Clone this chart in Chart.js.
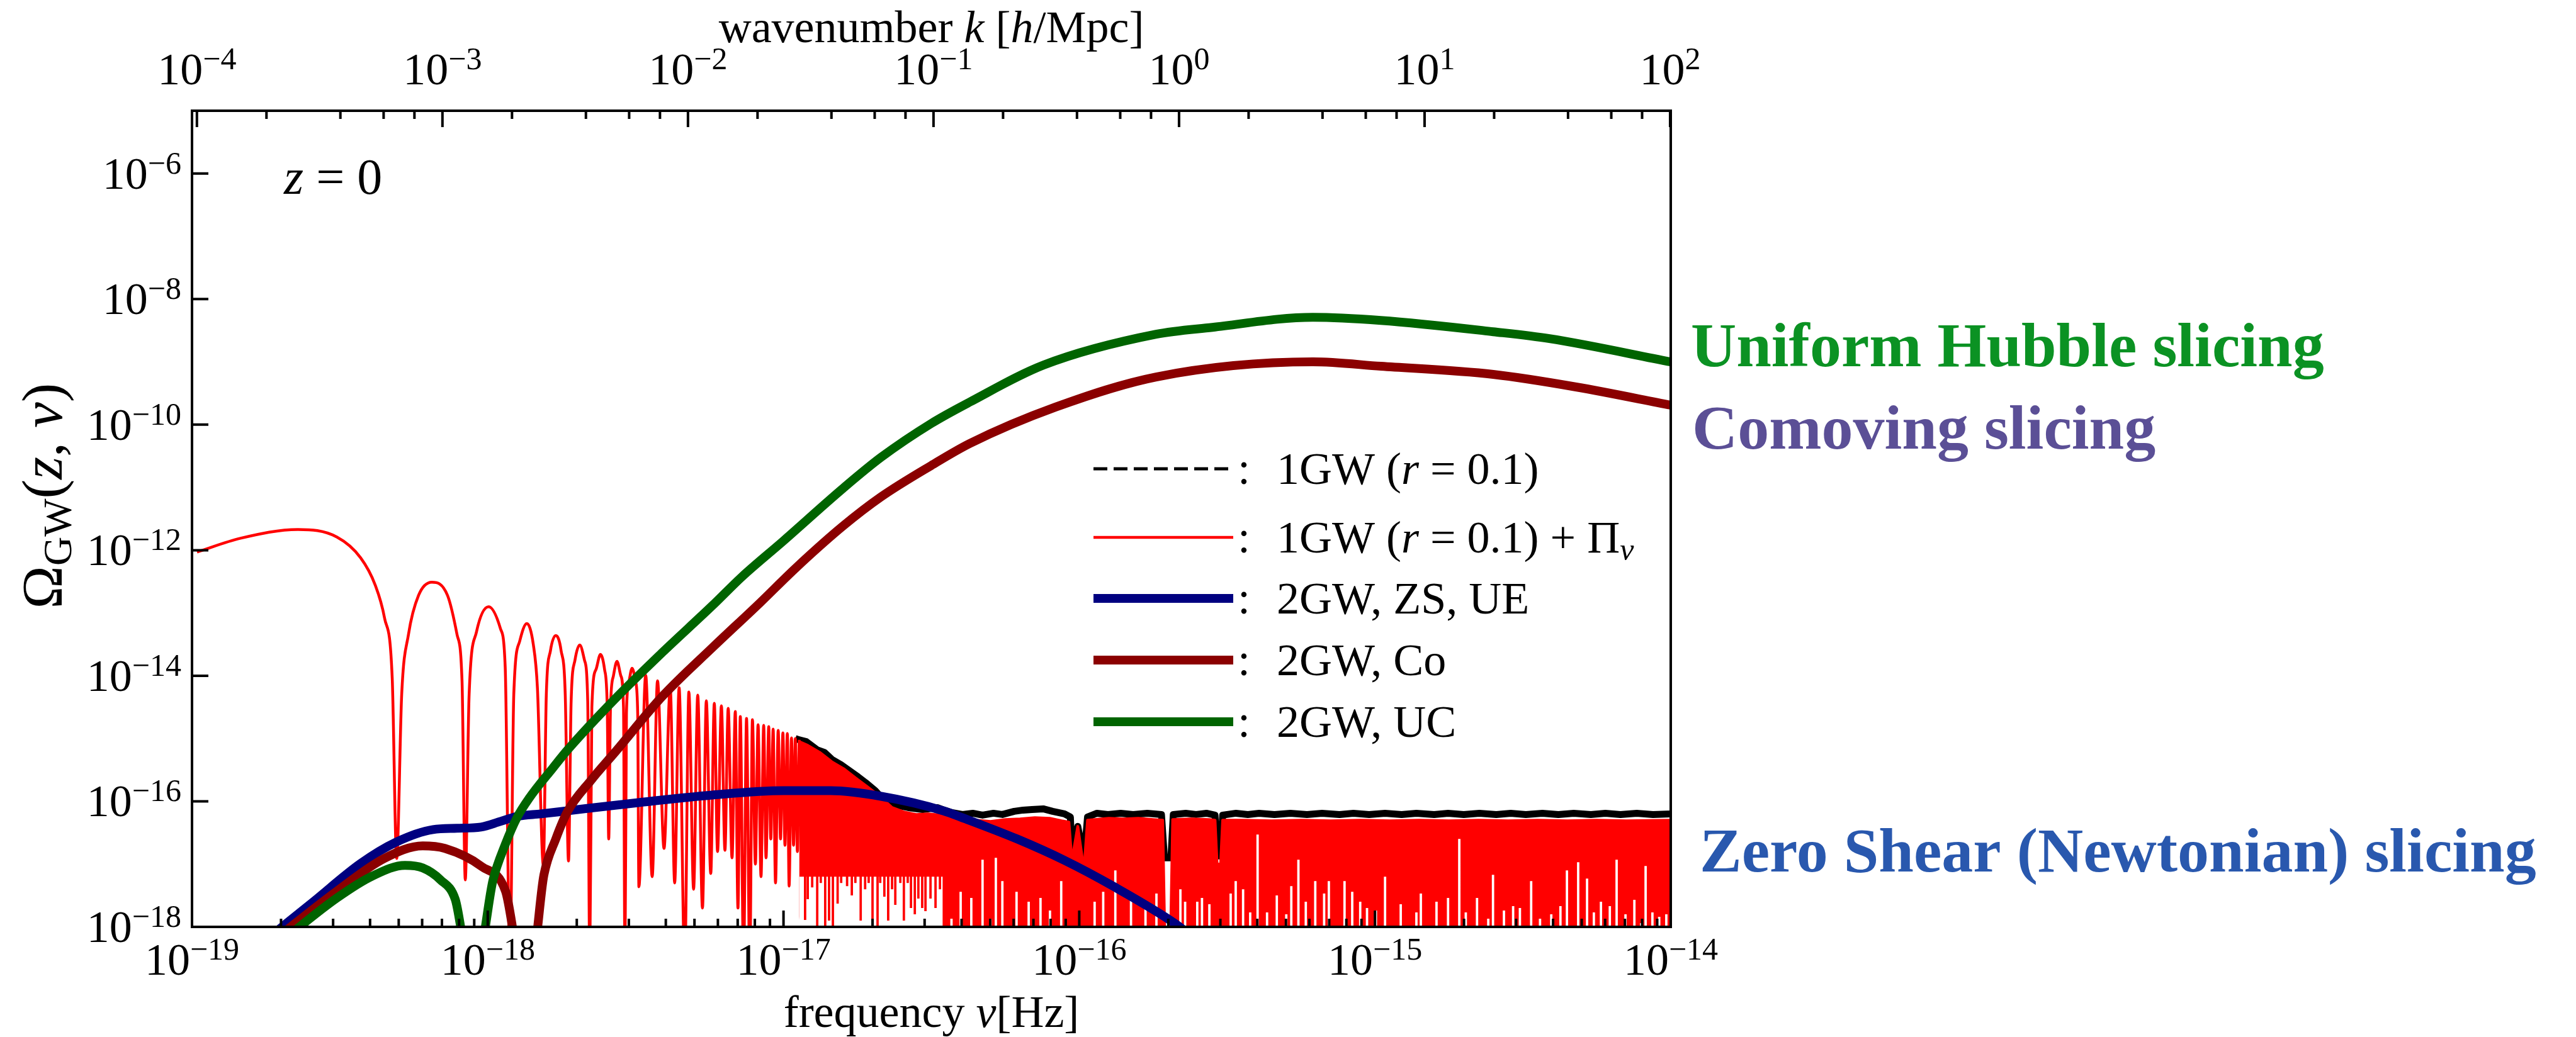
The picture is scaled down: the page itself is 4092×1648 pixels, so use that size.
<!DOCTYPE html>
<html>
<head>
<meta charset="utf-8">
<script src="https://cdn.jsdelivr.net/npm/chart.js@4.4.1/dist/chart.umd.min.js"></script>
<style>
  html, body { margin: 0; padding: 0; background: #fff; }
  canvas { display: block; }
</style>
</head>
<body>
<canvas id="gwChart" width="4092" height="1648"></canvas>
<script>
// all curves are [log10(nu / Hz), log10(Omega_GW)]

// axis ranges and ticks
const nuRange = [1e-19, 1e-14];
const omegaRange = [1e-18, 1e-5];
const kRange = [9.55e-5, 100.6];
const nuTickExp = [-19, -18, -17, -16, -15, -14];
const nuMinorMant = [2, 3, 4, 5, 6, 7, 8, 9];
const omegaTickExp = [-18, -16, -14, -12, -10, -8, -6];
const kTickExp = [-4, -3, -2, -1, 0, 1, 2];
const kMinorMant = [1.92, 3.84, 5.76, 7.69];

// 2GW, UC (green)
const ucCurve = [
  [-18.69,-18.2],[-18.51,-17.54],[-18.39,-17.19],[-18.28,-17.02],[-18.22,-17.06],[-18.16,-17.25],
  [-18.11,-17.56],[-18.07,-18.4],[-18.03,-18.4],[-17.982,-17.25],[-17.941,-16.69],[-17.9,-16.25],
  [-17.86,-15.95],[-17.78,-15.47],[-17.73,-15.18],[-17.57,-14.37],[-17.41,-13.63],[-17.24,-12.88],
  [-17.14,-12.42],[-17.0,-11.85],[-16.8,-11.02],[-16.67,-10.52],[-16.5,-9.98],[-16.37,-9.64],
  [-16.12,-9.05],[-15.74,-8.56],[-15.55,-8.45],[-15.21,-8.29],[-14.98,-8.34],[-14.6,-8.52],
  [-14.41,-8.63],[-14.0,-9.0]
];

// 2GW, Co (dark red)
const coCurve = [
  [-18.72,-18.2],[-18.51,-17.43],[-18.35,-16.91],[-18.22,-16.71],[-18.145,-16.75],[-18.02,-17.04],
  [-17.94,-17.43],[-17.89,-18.5],[-17.85,-18.5],[-17.81,-17.17],[-17.77,-16.6],[-17.73,-16.16],
  [-17.65,-15.66],[-17.57,-15.22],[-17.41,-14.33],[-17.24,-13.55],[-17.08,-12.84],[-16.96,-12.29],
  [-16.8,-11.62],[-16.67,-11.15],[-16.5,-10.65],[-16.37,-10.3],[-16.08,-9.72],[-15.74,-9.24],
  [-15.21,-9.0],[-14.98,-9.07],[-14.6,-9.2],[-14.32,-9.4],[-14.0,-9.69]
];

// 2GW, ZS, UE (navy)
const zsCurve = [
  [-18.74,-18.17],[-18.59,-17.6],[-18.43,-16.99],[-18.31,-16.65],[-18.185,-16.45],[-18.104,-16.43],
  [-18.023,-16.41],[-17.957,-16.32],[-17.9,-16.24],[-17.82,-16.2],[-17.73,-16.15],[-17.49,-16.02],
  [-17.24,-15.9],[-17.0,-15.83],[-16.84,-15.83],[-16.67,-15.92],[-16.46,-16.15],[-16.39,-16.27],
  [-16.21,-16.6],[-16.05,-16.94],[-15.886,-17.35],[-15.675,-17.95],[-15.62,-18.15]
];

// 1GW + Pi_nu (red), resolved oscillations: peaks and dips
const redResolved = [
  [-18.983,-12.03],[-18.836,-11.81],[-18.642,-11.67],[-18.51,-11.79],[-18.43,-12.12],[-18.381,-12.55],
  [-18.349,-13.08],[-18.323,-14.04],[-18.308,-16.91],
  [-18.291,-14.3],[-18.268,-13.34],[-18.234,-12.72],[-18.189,-12.51],[-18.136,-12.72],[-18.104,-13.34],
  [-18.087,-14.08],[-18.076,-17.25],
  [-18.063,-14.3],[-18.038,-13.3],[-17.997,-12.9],[-17.957,-13.25],[-17.941,-13.86],[-17.925,-18.6],
  [-17.912,-14.3],[-17.892,-13.45],[-17.868,-13.17],[-17.846,-13.5],[-17.832,-14.2],[-17.812,-17.02],
  [-17.802,-14.3],[-17.788,-13.6],[-17.77,-13.36],[-17.752,-13.6],[-17.738,-14.3],[-17.727,-16.95],
  [-17.718,-14.4],[-17.705,-13.75],[-17.689,-13.51],[-17.673,-13.75],[-17.662,-14.4],[-17.655,-18.6],
  [-17.648,-14.5],[-17.634,-13.9],[-17.619,-13.66],[-17.605,-13.9],[-17.596,-14.5],[-17.591,-16.6],
  [-17.585,-14.5],[-17.575,-14.0],[-17.563,-13.77],[-17.55,-14.0],[-17.541,-14.5],[-17.536,-18.6],
  [-17.531,-14.6],[-17.523,-14.1],[-17.512,-13.88],[-17.5,-14.1],[-17.493,-14.6],[-17.489,-17.36],
  [-17.466,-13.99],[-17.444,-17.2],[-17.426,-14.08],[-17.404,-16.75],[-17.383,-14.18],[-17.368,-17.3],
  [-17.353,-14.19],[-17.334,-18.6],[-17.32,-14.26],[-17.304,-17.4],[-17.29,-14.31],[-17.274,-17.7],
  [-17.261,-14.4],[-17.246,-17.15],[-17.234,-14.44],[-17.223,-16.8],[-17.21,-14.48],[-17.198,-16.78],
  [-17.187,-14.52],[-17.174,-16.9],[-17.163,-14.57],[-17.154,-17.7],[-17.146,-14.65],[-17.135,-18.6],
  [-17.125,-14.68],[-17.114,-18.6],[-17.105,-14.7],[-17.095,-17.0],[-17.086,-14.78],[-17.076,-17.2],
  [-17.067,-14.79],[-17.059,-16.9],[-17.05,-14.81],[-17.043,-16.6],[-17.035,-14.85],[-17.027,-17.3],
  [-17.018,-14.87],[-17.01,-16.6],[-17.002,-14.91],[-16.995,-16.7],[-16.987,-14.92],[-16.981,-17.35],
  [-16.973,-14.99],[-16.966,-16.7],[-16.96,-15.0],[-16.953,-16.8],[-16.947,-15.02]
];

// red, unresolved part: upper envelope
const redTop = [
  [-16.947,-15.05],[-16.918,-15.11],[-16.878,-15.22],[-16.837,-15.37],[-16.797,-15.48],[-16.756,-15.63],
  [-16.716,-15.77],[-16.675,-15.92],[-16.633,-16.1],[-16.593,-16.17],[-16.552,-16.21],[-16.512,-16.2],
  [-16.463,-16.22],[-16.43,-16.25],[-16.4,-16.27],[-16.35,-16.3],[-16.3,-16.32],[-16.25,-16.29],
  [-16.2,-16.28],[-16.15,-16.26],[-16.1,-16.27],[-16.06,-16.31],[-16.035,-16.33],[-16.025,-16.95],
  [-16.005,-16.4],[-15.984,-17.1],[-15.972,-16.3],[-15.9,-16.27],[-15.85,-16.28],[-15.8,-16.27],
  [-15.75,-16.29],[-15.718,-16.3],[-15.71,-18.4],[-15.692,-18.4],[-15.684,-16.29],[-15.62,-16.28],
  [-15.56,-16.29],[-15.541,-16.3],[-15.534,-17.0],[-15.522,-17.0],[-15.515,-16.3],[-15.45,-16.3],
  [-15.35,-16.31],[-15.25,-16.3],[-15.15,-16.31],[-15.05,-16.3],[-14.95,-16.31],[-14.85,-16.3],
  [-14.75,-16.31],[-14.65,-16.3],[-14.55,-16.31],[-14.45,-16.3],[-14.35,-16.31],[-14.25,-16.3],
  [-14.15,-16.31],[-14.0,-16.3]
];
// where the half-resolved oscillation still leaves white below it
const redSolidLow = -17.2;
const redFloor = -18.4;
// deep dips in the half-resolved stretch
const redDips = [
  [-16.927,-17.89],[-16.918,-17.56],[-16.903,-17.37],[-16.886,-18.4],[-16.874,-17.3],[-16.859,-18.4],
  [-16.846,-17.9],[-16.833,-18.4],[-16.817,-17.63],[-16.805,-17.3],[-16.785,-17.35],[-16.769,-17.5],
  [-16.757,-17.3],[-16.739,-17.9],[-16.724,-17.4],[-16.712,-17.3],[-16.699,-17.9],[-16.682,-18.4],
  [-16.673,-17.3],[-16.659,-17.52],[-16.646,-17.9],[-16.633,-17.4],[-16.622,-17.65],[-16.605,-17.3],
  [-16.593,-17.9],[-16.58,-17.3],[-16.569,-17.7],[-16.556,-17.8],[-16.544,-17.55],[-16.531,-17.7],
  [-16.52,-17.75],[-16.503,-17.55],[-16.486,-17.7],[-16.471,-17.4]
];
// white slivers in the dense band: position and the level they reach up to
const redSlivers = [
  [-16.432,-17.87],[-16.401,-17.44],[-16.365,-17.54],[-16.327,-16.93],[-16.3,-17.87],[-16.282,-16.9],
  [-16.26,-17.27],[-16.212,-17.44],[-16.171,-17.6],[-16.131,-17.54],[-16.099,-17.74],[-16.061,-17.27],
  [-15.948,-17.6],[-15.919,-17.44],[-15.878,-17.1],[-15.825,-17.54],[-15.776,-17.64],[-15.739,-17.47],
  [-15.658,-17.4],[-15.642,-17.6],[-15.601,-17.6],[-15.585,-17.54],[-15.56,-17.64],[-15.488,-17.47],
  [-15.471,-17.27],[-15.446,-17.4],[-15.422,-17.77],[-15.397,-16.53],[-15.365,-17.77],[-15.332,-17.5],
  [-15.3,-17.8],[-15.283,-17.35],[-15.259,-16.93],[-15.234,-17.6],[-15.202,-17.27],[-15.172,-17.47],
  [-15.156,-17.27],[-15.103,-17.27],[-15.077,-17.44],[-15.05,-17.6],[-15.027,-17.7],[-14.997,-17.74],
  [-14.966,-17.2],[-14.913,-17.64],[-14.86,-17.77],[-14.845,-17.47],[-14.792,-17.6],[-14.753,-17.54],
  [-14.715,-16.6],[-14.693,-17.77],[-14.655,-17.54],[-14.617,-17.87],[-14.601,-17.17],[-14.564,-17.74],
  [-14.533,-17.67],[-14.51,-17.7],[-14.472,-17.27],[-14.442,-17.87],[-14.404,-17.8],[-14.373,-17.67],
  [-14.351,-17.1],[-14.313,-16.97],[-14.283,-17.23],[-14.26,-17.77],[-14.236,-17.6],[-14.206,-17.67],
  [-14.183,-16.93],[-14.153,-17.8],[-14.123,-17.57],[-14.1,-17.94],[-14.085,-17.03],[-14.062,-17.77],
  [-14.039,-17.84],[-14.015,-17.8]
];

// 1GW (r = 0.1), black, visible only above the red band
const oneGwCurve = [
  [-16.96,-15.0],[-16.948,-15.02],[-16.923,-15.05],[-16.886,-15.18],[-16.862,-15.22],[-16.837,-15.33],
  [-16.805,-15.42],[-16.772,-15.53],[-16.748,-15.61],[-16.723,-15.7],[-16.69,-15.83],[-16.659,-15.99],
  [-16.61,-16.07],[-16.578,-16.1],[-16.529,-16.13],[-16.48,-16.1],[-16.463,-16.13],[-16.43,-16.18],
  [-16.395,-16.21],[-16.36,-16.19],[-16.327,-16.22],[-16.29,-16.19],[-16.26,-16.21],[-16.22,-16.16],
  [-16.19,-16.14],[-16.16,-16.13],[-16.122,-16.12],[-16.09,-16.16],[-16.05,-16.2],[-16.03,-16.25],
  [-16.024,-16.9],[-16.005,-16.4],[-15.984,-16.9],[-15.972,-16.25],[-15.94,-16.19],[-15.903,-16.21],
  [-15.86,-16.19],[-15.818,-16.21],[-15.77,-16.19],[-15.722,-16.21],[-15.712,-16.9],[-15.69,-16.9],
  [-15.682,-16.21],[-15.64,-16.19],[-15.605,-16.21],[-15.57,-16.19],[-15.541,-16.22],[-15.533,-16.87],
  [-15.523,-16.87],[-15.515,-16.22],[-15.47,-16.19],[-15.43,-16.21],[-15.392,-16.19],[-15.34,-16.21],
  [-15.286,-16.19],[-15.23,-16.21],[-15.179,-16.19],[-15.12,-16.21],[-15.073,-16.19],[-15.02,-16.21],
  [-14.966,-16.19],[-14.91,-16.21],[-14.86,-16.19],[-14.8,-16.21],[-14.753,-16.19],[-14.7,-16.21],
  [-14.647,-16.19],[-14.59,-16.21],[-14.541,-16.19],[-14.49,-16.21],[-14.434,-16.19],[-14.38,-16.21],
  [-14.328,-16.19],[-14.27,-16.21],[-14.221,-16.19],[-14.17,-16.21],[-14.115,-16.19],[-14.06,-16.21],
  [-14.0,-16.2]
];

// ---------------------------------------------------------------
const SERIF = '"Liberation Serif", "Times New Roman", serif';
const toXY = (pairs) => pairs.map(p => ({x: Math.pow(10, p[0]), y: Math.pow(10, p[1])}));

// lower edge of the red band, a step profile built from the dips and slivers
let redBottom = [[-16.96, redSolidLow]];
redDips.forEach(d => { redBottom.push([d[0] - 0.004, d[1]], [d[0] + 0.004, redSolidLow]); });
redBottom.push([-16.462, redFloor]);
redSlivers.forEach(s => { redBottom.push([s[0] - 0.004, s[1]], [s[0] + 0.004, redFloor]); });
redBottom.push([-13.99, redFloor]);

const thick = 14;
let datasets = [
  {label: '2GW, UC', data: toXY(ucCurve), borderColor: '#006400', borderWidth: thick, cubicInterpolationMode: 'monotone'},
  {label: '2GW, Co', data: toXY(coCurve), borderColor: '#8b0000', borderWidth: thick, cubicInterpolationMode: 'monotone'},
  {label: '2GW, ZS, UE', data: toXY(zsCurve), borderColor: '#000080', borderWidth: thick, cubicInterpolationMode: 'monotone'},
  {label: '1GW + Pi', data: toXY(redResolved), borderColor: '#ff0000', borderWidth: 4.5, cubicInterpolationMode: 'monotone'},
  {label: 'red band top', data: toXY(redTop), borderColor: '#ff0000', backgroundColor: '#ff0000', borderWidth: 4.5, fill: '+1'},
  {label: 'red band bottom', data: toXY(redBottom), borderColor: '#ff0000', borderWidth: 0, stepped: true},
  {label: '1GW', data: toXY(oneGwCurve), borderColor: '#000000', borderWidth: 11}
];
datasets.forEach(ds => {
  ds.pointRadius = 0;
  ds.clip = 0;
  ds.borderJoinStyle = 'round';
  if (ds.fill === undefined) ds.fill = false;
});

function drawRich(ctx, parts, x, y, align){
  let total = 0;
  for (const p of parts) {
    ctx.font = p.f;
    p.w = ctx.measureText(p.t).width;
    total += p.w;
  }
  let cx = align === 'center' ? x - total / 2 : (align === 'right' ? x - total : x);
  ctx.textAlign = 'left';
  ctx.textBaseline = 'alphabetic';
  for (const p of parts) {
    ctx.font = p.f;
    ctx.fillText(p.t, cx, y + (p.dy || 0));
    cx += p.w;
  }
}
const rm = (t, size) => ({t: t, f: (size || 72) + 'px ' + SERIF});
const it = (t, size) => ({t: t, f: 'italic ' + (size || 72) + 'px ' + SERIF});
function powLabel(e){
  return [rm('10'), {t: String(e).replace('-', '\u2212'), f: '50px ' + SERIF, dy: -24}];
}

const legendRows = [
  {y: 745, color: '#000000', width: 5, dash: [22, 10], parts: [rm('1GW ('), it('r'), rm(' = 0.1)')]},
  {y: 854, color: '#ff0000', width: 4.5, dash: [], parts: [rm('1GW ('), it('r'), rm(' = 0.1) + \u03a0'), Object.assign(it('\u03bd', 50), {dy: 12})]},
  {y: 951, color: '#000080', width: thick, dash: [], parts: [rm('2GW, ZS, UE')]},
  {y: 1049, color: '#8b0000', width: thick, dash: [], parts: [rm('2GW, Co')]},
  {y: 1147, color: '#006400', width: thick, dash: [], parts: [rm('2GW, UC')]}
];

const frameAndText = {
  id: 'frameAndText',
  afterDraw(chart){
    const ctx = chart.ctx;
    const area = chart.chartArea;
    const sx = chart.scales.x, sy = chart.scales.y, sk = chart.scales.k;
    ctx.save();
    ctx.strokeStyle = '#000';
    ctx.fillStyle = '#000';
    ctx.lineWidth = 4;
    ctx.setLineDash([]);
    ctx.strokeRect(area.left, area.top, area.right - area.left, area.bottom - area.top);

    ctx.beginPath();
    // bottom axis
    nuTickExp.forEach(e => {
      const px = sx.getPixelForValue(Math.pow(10, e));
      ctx.moveTo(px, area.bottom); ctx.lineTo(px, area.bottom - 26);
      if (e < -14) nuMinorMant.forEach(m => {
        const p = sx.getPixelForValue(m * Math.pow(10, e));
        ctx.moveTo(p, area.bottom); ctx.lineTo(p, area.bottom - 13);
      });
    });
    // top axis
    kTickExp.forEach(e => {
      const px = sk.getPixelForValue(Math.pow(10, e));
      ctx.moveTo(px, area.top); ctx.lineTo(px, area.top + 26);
      if (e < 2) kMinorMant.forEach(m => {
        const p = sk.getPixelForValue(m * Math.pow(10, e));
        ctx.moveTo(p, area.top); ctx.lineTo(p, area.top + 13);
      });
    });
    // left axis
    omegaTickExp.forEach(e => {
      const py = sy.getPixelForValue(Math.pow(10, e));
      ctx.moveTo(area.left, py); ctx.lineTo(area.left + 26, py);
    });
    ctx.stroke();

    nuTickExp.forEach(e => drawRich(ctx, powLabel(e), sx.getPixelForValue(Math.pow(10, e)), 1549, 'center'));
    kTickExp.forEach(e => drawRich(ctx, powLabel(e), sk.getPixelForValue(Math.pow(10, e)), 134, 'center'));
    omegaTickExp.forEach(e => drawRich(ctx, powLabel(e), area.left - 17, sy.getPixelForValue(Math.pow(10, e)) + 24, 'right'));

    // axis titles
    const midX = (area.left + area.right) / 2;
    drawRich(ctx, [rm('frequency '), it('\u03bd'), rm('[Hz]')], midX, 1632, 'center');
    drawRich(ctx, [rm('wavenumber '), it('k'), rm(' ['), it('h'), rm('/Mpc]')], midX, 67, 'center');
    ctx.save();
    ctx.translate(98, 788);
    ctx.rotate(-Math.PI / 2);
    drawRich(ctx, [rm('\u03a9', 92), Object.assign(rm('GW', 64), {dy: 15}), rm('(', 92), it('z', 92), rm(', ', 92), it('\u03bd', 92), rm(')', 92)], 0, 0, 'center');
    ctx.restore();

    drawRich(ctx, [it('z', 80), rm(' = 0', 80)], 451, 308, 'left');

    // legend
    legendRows.forEach(row => {
      ctx.beginPath();
      ctx.strokeStyle = row.color;
      ctx.lineWidth = row.width;
      ctx.setLineDash(row.dash);
      ctx.moveTo(1737, row.y); ctx.lineTo(1959, row.y);
      ctx.stroke();
      ctx.setLineDash([]);
      ctx.fillStyle = '#000';
      drawRich(ctx, [rm(':')], 1976, row.y + 24, 'center');
      drawRich(ctx, row.parts, 2028, row.y + 24, 'left');
    });

    // slicing names
    ctx.font = 'bold 100px ' + SERIF;
    ctx.textAlign = 'left';
    ctx.fillStyle = '#0b9223';
    ctx.fillText('Uniform Hubble slicing', 2686, 582);
    ctx.fillStyle = '#5b4f96';
    ctx.fillText('Comoving slicing', 2688, 713);
    ctx.fillStyle = '#2958ae';
    ctx.fillText('Zero Shear (Newtonian) slicing', 2700, 1385);
    ctx.restore();
  }
};

let chart = new Chart(document.getElementById('gwChart').getContext('2d'), {
  type: 'line',
  data: {datasets: datasets},
  options: {
    responsive: false,
    animation: false,
    devicePixelRatio: 1,
    layout: {padding: {left: 305, top: 176, right: 1438, bottom: 175}},
    scales: {
      x: {type: 'logarithmic', min: nuRange[0], max: nuRange[1], display: false},
      y: {type: 'logarithmic', min: omegaRange[0], max: omegaRange[1], display: false},
      k: {type: 'logarithmic', axis: 'x', position: 'top', min: kRange[0], max: kRange[1], display: false}
    },
    plugins: {legend: {display: false}, tooltip: {enabled: false}}
  },
  plugins: [frameAndText]
});
</script>
</body>
</html>
